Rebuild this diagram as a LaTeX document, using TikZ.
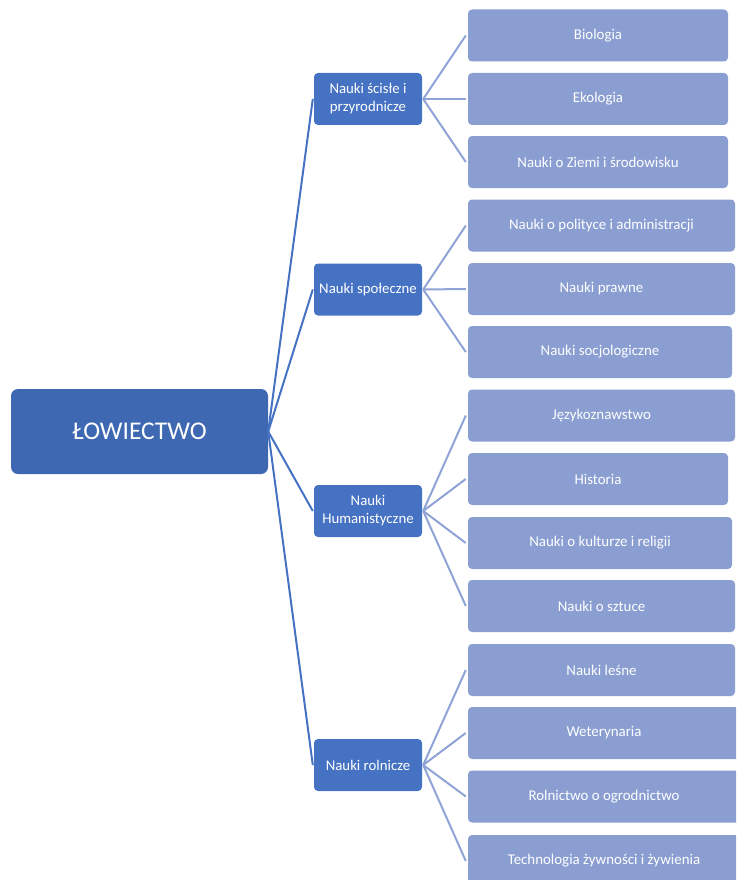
\documentclass[tikz,border=0pt]{standalone}
\usepackage{fontspec}
\setmainfont{Carlito}
\definecolor{rootblue}{HTML}{3E68B2}
\definecolor{midblue}{HTML}{4672C3}
\definecolor{leafblue}{HTML}{8A9ED2}
\definecolor{leafline}{HTML}{8FA3D6}
\begin{document}
\begin{tikzpicture}[x=1pt,y=-1pt,
  rootbox/.style={fill=rootblue,draw=none,rounded corners=7pt,minimum width=257pt,minimum height=85pt,inner sep=0pt,text=white,font=\fontsize{25.5}{30}\selectfont},
  midbox/.style={fill=midblue,draw=none,rounded corners=4pt,minimum width=108pt,minimum height=52pt,inner sep=0pt,text=white,align=center,font=\fontsize{14.8}{18}\selectfont},
  leafbox/.style={fill=leafblue,draw=none,rounded corners=4pt,minimum height=52pt,inner sep=0pt,text=white,font=\fontsize{14.9}{18}\selectfont},
  rootline/.style={draw=midblue,line width=2pt},
  leafline/.style={draw=leafline,line width=2pt}]
\useasboundingbox (0,0) rectangle (736,880);
\begin{scope}
\clip (0,0) rectangle (736,880);
\node[rootbox] (root) at (139.5,431.5) {ŁOWIECTWO};

\node[midbox] (a) at (368,99) {Nauki ścisłe i\\przyrodnicze};
\node[midbox] (b) at (368,289.5) {Nauki społeczne};
\node[midbox] (c) at (368,511) {Nauki\\Humanistyczne};
\node[midbox] (d) at (368,765) {Nauki rolnicze};

\node[leafbox,minimum width=260pt] (a1) at (598,35.5) {Biologia};
\node[leafbox,minimum width=260pt] (a2) at (598,99) {Ekologia};
\node[leafbox,minimum width=260pt] (a3) at (598,162) {Nauki o Ziemi i środowisku};

\node[leafbox,minimum width=267pt] (b1) at (601.5,225.5) {Nauki o polityce i administracji};
\node[leafbox,minimum width=267pt] (b2) at (601.5,289) {Nauki prawne};
\node[leafbox,minimum width=264pt] (b3) at (600,352) {Nauki socjologiczne};

\node[leafbox,minimum width=267pt] (c1) at (601.5,415.5) {Językoznawstwo};
\node[leafbox,minimum width=260pt] (c2) at (598,479) {Historia};
\node[leafbox,minimum width=264pt] (c3) at (600,543) {Nauki o kulturze i religii};
\node[leafbox,minimum width=267pt] (c4) at (601.5,606) {Nauki o sztuce};

\node[leafbox,minimum width=267pt] (d1) at (601.5,670) {Nauki leśne};
\node[leafbox,minimum width=272pt] (d2) at (604,733) {Weterynaria};
\node[leafbox,minimum width=272pt] (d3) at (604,796.5) {Rolnictwo o ogrodnictwo};
\node[leafbox,minimum width=272pt] (d4) at (604,861) {Technologia żywności i żywienia};

\foreach \m in {a,b,c,d}
  \draw[rootline] (root.east) -- ([xshift=-1pt]\m.west);
\foreach \m/\l in {a/a1,a/a2,a/a3,b/b1,b/b2,b/b3,c/c1,c/c2,c/c3,c/c4,d/d1,d/d2,d/d3,d/d4}
  \draw[leafline] ([xshift=1pt]\m.east) -- ([xshift=-2pt]\l.west);
\end{scope}
\end{tikzpicture}
\end{document}
